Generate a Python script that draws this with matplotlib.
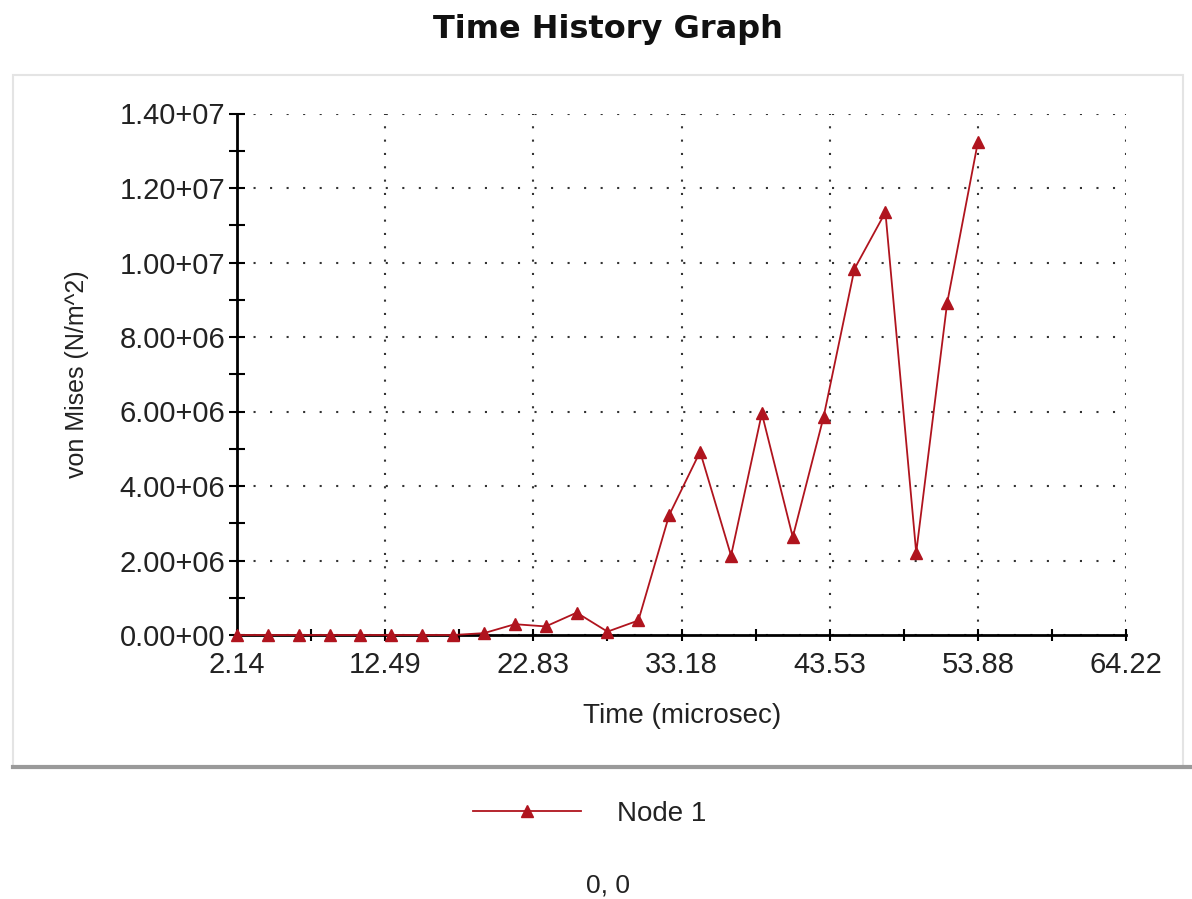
import matplotlib
matplotlib.use("Agg")
import matplotlib.pyplot as plt
from matplotlib.patches import Rectangle
from matplotlib.lines import Line2D
from matplotlib.ticker import FuncFormatter

plt.rcParams['lines.scale_dashes'] = False
plt.rcParams['font.family'] = ['Liberation Sans', 'DejaVu Sans']

# ---- data ----
time_us = [2.14, 4.30, 6.45, 8.61, 10.76, 12.92, 15.08, 17.23, 19.39, 21.54,
           23.70, 25.86, 28.01, 30.17, 32.32, 34.48, 36.64, 38.79, 40.95, 43.10,
           45.26, 47.42, 49.57, 51.73, 53.88]
von_mises = [0.0, 0.0, 0.0, 0.0, 0.0, 0.0, 0.0, 0.0, 0.05e6, 0.29e6,
             0.23e6, 0.60e6, 0.09e6, 0.39e6, 3.22e6, 4.92e6, 2.13e6, 5.95e6, 2.63e6, 5.85e6,
             9.83e6, 11.35e6, 2.21e6, 8.91e6, 13.24e6]
x_ticks = [2.14, 12.49, 22.83, 33.18, 43.53, 53.88, 64.22]
x_tick_labels = ["2.14", "12.49", "22.83", "33.18", "43.53", "53.88", "64.22"]
y_ticks = [0, 2e6, 4e6, 6e6, 8e6, 10e6, 12e6, 14e6]
y_minor_ticks = [1e6, 3e6, 5e6, 7e6, 9e6, 11e6, 13e6]
series_name = "Node 1"
title = "Time History Graph"
x_label = "Time (microsec)"
y_label = "von Mises (N/m^2)"
footer = "0, 0"

W, H = 1192, 899
fig = plt.figure(figsize=(W / 100, H / 100), dpi=100)
fig.patch.set_facecolor('white')

def fx(px):
    return px / W

def fy(py):
    return 1 - py / H

# panel frame
fig.add_artist(Rectangle((fx(13), fy(767)), fx(1183) - fx(13), fy(75) - fy(767),
                         transform=fig.transFigure, fill=False,
                         edgecolor='#e4e4e4', lw=1.5))
fig.add_artist(Line2D([fx(13), 1.0], [fy(767), fy(767)], transform=fig.transFigure,
                      color='#9a9a9a', lw=3))

ax = fig.add_axes([fx(237), fy(635), fx(1126) - fx(237), fy(113.5) - fy(635)])
line_color = '#b0141e'
ax.plot(time_us, von_mises, color=line_color, lw=1.3, marker='^', ms=8.5,
        mfc=line_color, mec=line_color, clip_on=False, zorder=4, label=series_name)

ax.set_xlim(x_ticks[0], x_ticks[-1])
ax.set_ylim(y_ticks[0], y_ticks[-1])
ax.set_xticks(x_ticks)
ax.set_xticklabels(x_tick_labels)
ax.set_xticks([(a + b) / 2 for a, b in zip(x_ticks[:-1], x_ticks[1:])], minor=True)
ax.set_yticks(y_ticks)
ax.set_yticks(y_minor_ticks, minor=True)
ax.yaxis.set_major_formatter(FuncFormatter(lambda v, p: f"{v:.2e}".replace("e", "")))

for s in ['top', 'right']:
    ax.spines[s].set_visible(False)
for s in ['left', 'bottom']:
    ax.spines[s].set_linewidth(2)
    ax.spines[s].set_color('black')

ax.tick_params(axis='y', which='both', direction='inout', length=11, width=1.5,
               labelsize=21, pad=3, colors='black', labelcolor='#222222')
ax.tick_params(axis='x', which='both', direction='inout', length=9, width=1.5,
               labelsize=21, pad=7, colors='black', labelcolor='#222222')

ax.grid(True, axis='x', which='major', color='#333333', lw=1.5, ls=(0, (1.5, 8.1)))
ax.grid(True, axis='y', which='major', color='#333333', lw=1.5, ls=(0, (1.5, 10.4)))
ax.set_axisbelow(True)

fig.text(fx(608), fy(38), title, ha='center', va='baseline', fontsize=23,
         fontweight='bold', family='DejaVu Sans', color='#111111')
fig.text(fx(682), fy(723), x_label, ha='center', va='baseline', fontsize=20, color='#222222')
fig.text(fx(77), fy(374), y_label, ha='center', va='center', rotation=90,
         fontsize=18, color='#222222')

leg = fig.legend(loc='center left', bbox_to_anchor=(fx(473), fy(814)), frameon=False,
                 fontsize=20, handlelength=3.9, handletextpad=1.3, borderpad=0,
                 borderaxespad=0, numpoints=1)
for t in leg.get_texts():
    t.set_color('#222222')

fig.text(fx(608), fy(893), footer, ha='center', va='baseline', fontsize=19, color='#222222')

fig.savefig('out.png', dpi=100, facecolor='white')
